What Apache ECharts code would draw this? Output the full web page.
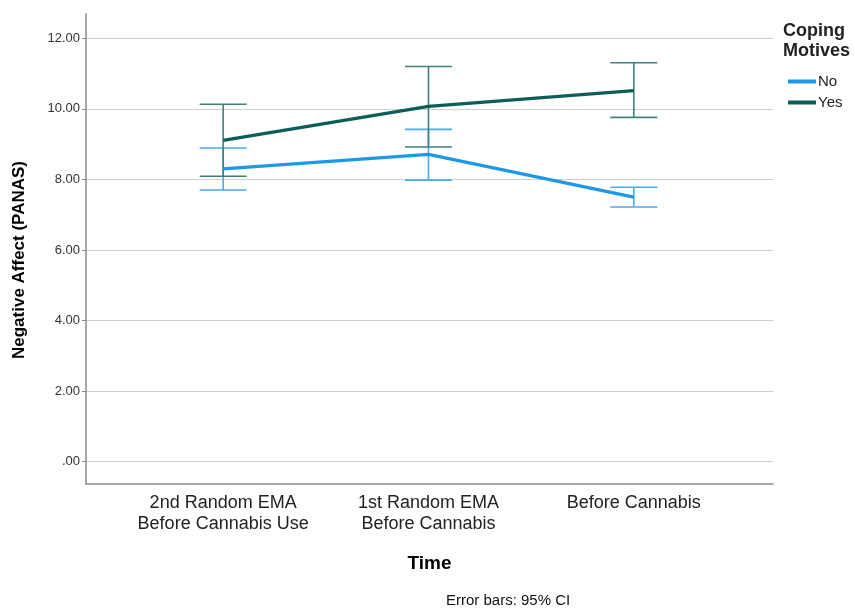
<!DOCTYPE html>
<html>
<head>
<meta charset="utf-8">
<script src="https://cdn.jsdelivr.net/npm/echarts@6/dist/echarts.min.js"></script>
<style>html,body{margin:0;padding:0;background:#fff}#c{width:855px;height:610px}</style>
</head>
<body>
<div id="c"></div>
<script>
var categories = ["2nd Random EMA\nBefore Cannabis Use", "1st Random EMA\nBefore Cannabis", "Before Cannabis"];
var yTicks = [0, 2, 4, 6, 8, 10, 12];
var noMean = [8.30, 8.71, 7.50];
var noLow = [7.70, 7.98, 7.22];
var noHigh = [8.89, 9.42, 7.78];
var yesMean = [9.11, 10.07, 10.52];
var yesLow = [8.09, 8.92, 9.76];
var yesHigh = [10.13, 11.20, 11.31];

var colNo = '#1e98e6', colYes = '#0c5f58';
var colNoErr = '#4aaaee', colYesErr = '#3f817b';
var FONT = '"Liberation Sans", Arial, sans-serif';

function lineData(m) { return m.map(function (v, i) { return [i, v]; }); }
function errData(lo, hi) { return lo.map(function (v, i) { return [i, v, hi[i]]; }); }
function errSeries(name, lo, hi, color, z) {
  return {
    name: name, type: 'custom', z: z,
    data: errData(lo, hi),
    renderItem: function (params, api) {
      var x = api.value(0);
      var a = api.coord([x, api.value(1)]);
      var b = api.coord([x, api.value(2)]);
      var hw = 23.5;
      var st = { stroke: color, lineWidth: 1.6, fill: null };
      return { type: 'group', children: [
        { type: 'line', shape: { x1: a[0], y1: a[1], x2: b[0], y2: b[1] }, style: st },
        { type: 'line', shape: { x1: a[0] - hw, y1: a[1], x2: a[0] + hw, y2: a[1] }, style: st },
        { type: 'line', shape: { x1: b[0] - hw, y1: b[1], x2: b[0] + hw, y2: b[1] }, style: st }
      ]};
    }
  };
}

var chart = echarts.init(document.getElementById('c'));
chart.setOption({
  animation: false,
  textStyle: { fontFamily: FONT },
  grid: { left: 86, top: 14, right: 82, bottom: 126 },
  xAxis: {
    type: 'value', min: -0.668, max: 2.678,
    name: 'Time', nameLocation: 'middle', nameGap: 70,
    nameTextStyle: { fontFamily: FONT, fontSize: 19, fontWeight: 'bold', color: '#000' },
    axisLine: { show: true, onZero: false, lineStyle: { color: '#8a8a8a', width: 1.5 } },
    axisTick: { show: false },
    splitLine: { show: false },
    axisLabel: {
      customValues: [0, 1, 2],
      formatter: function (v) { return categories[Math.round(v)]; },
      fontFamily: FONT, fontSize: 18, color: '#222', lineHeight: 21, margin: 9
    }
  },
  yAxis: {
    type: 'value', min: -0.632, max: 12.69,
    axisLine: { show: true, onZero: false, lineStyle: { color: '#8a8a8a', width: 1.5 } },
    axisTick: { show: true, customValues: yTicks, length: 4, lineStyle: { color: '#8a8a8a' } },
    axisLabel: {
      customValues: yTicks,
      formatter: function (v) { return v === 0 ? '.00' : v.toFixed(2); },
      fontFamily: FONT, fontSize: 13, color: '#333', margin: 6
    },
    splitLine: { show: true, lineStyle: { color: '#cfcfcf', width: 1.2 } }
  },
  legend: {
    data: ['No', 'Yes'], orient: 'vertical', left: 783, top: 69,
    icon: 'rect', itemWidth: 28, itemHeight: 4, itemGap: 6,
    textStyle: { fontFamily: FONT, fontSize: 15, color: '#222', padding: [0, 0, 0, -3] }
  },
  graphic: [
    { type: 'text', x: 19, y: 260, rotation: Math.PI / 2,
      style: { text: 'Negative Affect (PANAS)', font: 'bold 17px ' + FONT, fill: '#000', align: 'center', verticalAlign: 'middle' } },
    { type: 'text', left: 783, top: 21, style: { text: 'Coping\nMotives', font: 'bold 18px ' + FONT, fill: '#222', lineHeight: 20 } },
    { type: 'text', left: 446, top: 593, style: { text: 'Error bars: 95% CI', font: '15px ' + FONT, fill: '#111' } }
  ],
  series: [
    errSeries('errNo', noLow, noHigh, colNoErr, 2),
    errSeries('errYes', yesLow, yesHigh, colYesErr, 3),
    { name: 'No', type: 'line', data: lineData(noMean), symbol: 'none', z: 4,
      lineStyle: { color: colNo, width: 3.2 }, itemStyle: { color: colNo } },
    { name: 'Yes', type: 'line', data: lineData(yesMean), symbol: 'none', z: 5,
      lineStyle: { color: colYes, width: 3.2 }, itemStyle: { color: colYes } }
  ]
});
</script>
</body>
</html>
